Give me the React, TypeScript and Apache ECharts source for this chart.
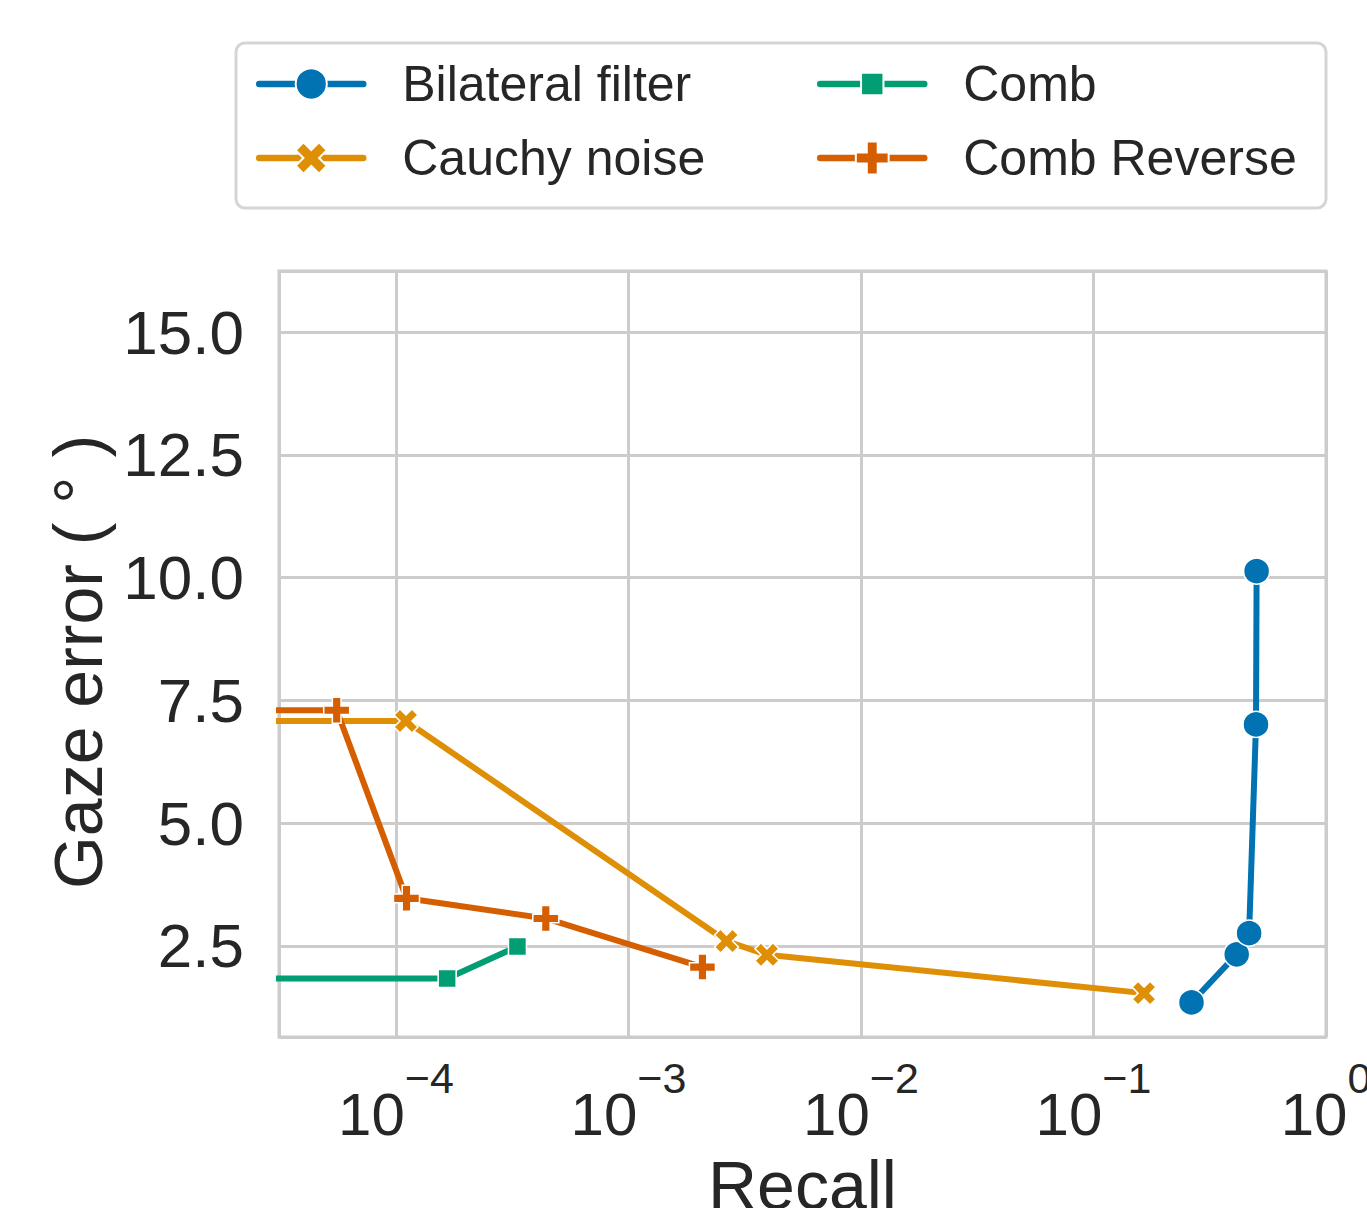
import React, { useEffect, useRef } from 'react';
import * as echarts from 'echarts';

// ---- data ----
const seriesNames = ['Bilateral filter', 'Cauchy noise', 'Comb', 'Comb Reverse'];
const bilateralRecall = [0.264, 0.413, 0.467, 0.5, 0.503];
const bilateralError = [1.35, 2.33, 2.76, 7.01, 10.13];
const cauchyRecall = [1e-6, 1.104e-4, 2.64e-3, 3.94e-3, 0.165];
const cauchyError = [7.08, 7.08, 2.6, 2.32, 1.54];
const combRecall = [1e-6, 1.66e-4, 3.33e-4];
const combError = [1.84, 1.84, 2.49];
const combRevRecall = [1e-6, 5.56e-5, 1.11e-4, 4.41e-4, 2.08e-3];
const combRevError = [7.3, 7.3, 3.47, 3.06, 2.07];
const yTicks = [2.5, 5, 7.5, 10, 12.5, 15];
const xDecades = [-4, -3, -2, -1, 0];

const colors = ['#0173B2', '#DE8F05', '#029E73', '#D55E00'];
const X_PATH = 'path://M1 0L2 1L3 0L4 1L3 2L4 3L3 4L2 3L1 4L0 3L1 2L0 1Z';
const PLUS_PATH = 'path://M2 0L4 0L4 2L6 2L6 4L4 4L4 6L2 6L2 4L0 4L0 2L2 2Z';
const symbols = ['circle', X_PATH, 'rect', PLUS_PATH];
const symbolSizes = [26, 24, 18, 26];
const legendItemHeights = [39, 39, 28, 41];

const FONT = '"Liberation Sans", Arial, Helvetica, sans-serif';
const TEXT = '#262626';
const GRIDC = '#cccccc';

const zip = (xs: number[], ys: number[]) => xs.map((x, i) => [x, ys[i]]);

export default function App() {
  const ref = useRef<HTMLDivElement>(null);
  useEffect(() => {
    if (!ref.current) return;
    const chart = echarts.init(ref.current, undefined, { renderer: 'svg' });
    const dataSets = [
      zip(bilateralRecall, bilateralError),
      zip(cauchyRecall, cauchyError),
      zip(combRecall, combError),
      zip(combRevRecall, combRevError),
    ];
    const legendPos = [
      { left: 256, center: 84 },
      { left: 256, center: 158 },
      { left: 817, center: 84 },
      { left: 817, center: 158 },
    ];
    const option: any = {
      animation: false,
      textStyle: { fontFamily: FONT },
      graphic: [
        {
          type: 'rect',
          shape: { x: 236, y: 43, width: 1090, height: 165, r: 9 },
          style: { fill: '#ffffff', stroke: '#d5d5d5', lineWidth: 3 },
          z: 0,
        },
      ],
      legend: seriesNames.map((name, i) => ({
        data: [name],
        left: legendPos[i].left,
        top: legendPos[i].center - 25,
        orient: 'vertical',
        padding: 0,
        itemWidth: 104,
        itemHeight: legendItemHeights[i],
        selectedMode: false,
        lineStyle: { width: 6.5, cap: 'round' },
        textStyle: {
          fontFamily: FONT,
          fontSize: 50,
          lineHeight: 50,
          color: TEXT,
          padding: [0, 0, 0, 34],
        },
        z: 5,
      })),
      grid: {
        left: 279,
        top: 271,
        width: 1047,
        height: 766,
        show: true,
        borderColor: GRIDC,
        borderWidth: 3,
        backgroundColor: 'transparent',
        containLabel: false,
        outerBoundsMode: 'none',
      },
      xAxis: {
        type: 'log',
        logBase: 10,
        min: 3.14e-5,
        max: 1,
        name: 'Recall',
        nameLocation: 'middle',
        nameGap: 114,
        nameTextStyle: { fontFamily: FONT, fontSize: 68, color: TEXT },
        axisLine: { show: false },
        axisTick: { show: false },
        minorTick: { show: false },
        splitLine: { show: true, lineStyle: { color: GRIDC, width: 3 } },
        axisLabel: {
          margin: 19,
          hideOverlap: false,
          formatter: (v: number) => {
            const l = Math.log10(v);
            const e = Math.round(l);
            if (Math.abs(l - e) > 1e-6 || xDecades.indexOf(e) < 0) return '';
            const s = e < 0 ? '\u2212' + String(-e) : String(e);
            return '{b|10}{s|' + s + '}';
          },
          rich: {
            b: {
              fontFamily: FONT,
              fontSize: 60,
              height: 60,
              lineHeight: 60,
              verticalAlign: 'bottom',
              color: TEXT,
            },
            s: {
              fontFamily: FONT,
              fontSize: 43,
              height: 43,
              lineHeight: 88,
              verticalAlign: 'top',
              color: TEXT,
            },
          },
        },
      },
      yAxis: {
        type: 'value',
        min: 0.647,
        max: 16.242,
        minInterval: 2.5,
        maxInterval: 2.5,
        name: 'Gaze error ( \u00b0 )',
        nameLocation: 'middle',
        nameGap: 161,
        nameTextStyle: { fontFamily: FONT, fontSize: 68, color: TEXT, padding: [0, 16, 0, 0] },
        axisLine: { show: false },
        axisTick: { show: false },
        splitLine: { show: true, lineStyle: { color: GRIDC, width: 3 } },
        axisLabel: {
          margin: 35,
          fontFamily: FONT,
          fontSize: 62,
          color: TEXT,
          showMinLabel: true,
          showMaxLabel: true,
          formatter: (v: number) => {
            const hit = yTicks.find((t) => Math.abs(t - v) < 1e-6);
            return hit === undefined ? '' : hit.toFixed(1);
          },
        },
      },
      series: seriesNames.map((name, i) => ({
        name,
        type: 'line',
        data: dataSets[i],
        symbol: symbols[i],
        symbolSize: symbolSizes[i],
        showSymbol: true,
        showAllSymbol: true,
        clip: true,
        lineStyle: { width: 6, color: colors[i], cap: 'round', join: 'round' },
        itemStyle: { color: colors[i], borderColor: '#ffffff', borderWidth: 1.5 },
        emphasis: { disabled: true },
        z: 2 + i,
      })),
    };
    chart.setOption(option);
    return () => chart.dispose();
  }, []);
  return (
    <div
      ref={ref}
      style={{ position: 'fixed', left: 0, top: 0, width: 1367, height: 1208, background: '#ffffff' }}
    />
  );
}
